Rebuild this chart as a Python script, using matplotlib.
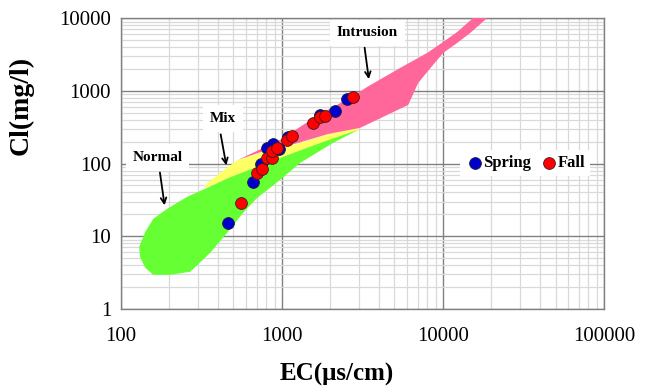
import matplotlib
matplotlib.use("Agg")
import matplotlib.pyplot as plt
from matplotlib.ticker import LogLocator, NullFormatter, FixedLocator, FixedFormatter

plt.rcParams["font.family"] = ["Liberation Serif", "DejaVu Serif"]

# sample points (EC in us/cm, Cl in mg/l)
spring_ec = [466, 666, 741, 807, 887, 966, 1099, 1729, 2143, 2535]
spring_cl = [15.4, 56.5, 99, 163, 187, 158, 235, 468, 531, 776]
fall_ec = [556, 705, 751, 807, 867, 867, 939, 1083, 1153, 1571, 1713, 1858, 2746]
fall_cl = [28.5, 75, 84, 119, 119, 151, 166, 212, 240, 366, 435, 453, 819]

# zone outlines
normal_ec = [130, 142, 159, 194, 258, 344, 464, 755, 1209, 1939, 2978,
             2083, 1299, 976, 703, 575, 457, 359, 270, 202, 159, 142, 132]
normal_cl = [7.1, 11.5, 17.3, 23.8, 34.8, 46.3, 63, 96, 143, 210, 291,
             193, 102, 59.7, 33.7, 21, 11.1, 5.9, 3.24, 2.94, 2.94, 3.67, 5.05]
mix_ec = [334, 464, 535, 755, 1209, 1939, 2978, 2978, 1939, 1209, 755, 464, 334]
mix_cl = [50.9, 90.1, 112.5, 143, 184, 252, 310, 281, 205, 140, 93, 61.6, 46.3]
intrusion_ec = [535, 976, 1729, 2656, 3388, 5430, 7990, 10040, 12270, 19670,
                24040, 18840, 14780, 12270, 10040, 7990, 7025, 6088, 3063,
                1939, 1209, 755]
intrusion_cl = [112.5, 212, 483, 801, 1135, 2072, 3333, 4721, 6480, 16230,
                16230, 10095, 6280, 4575, 3333, 1825, 1288, 641, 310,
                255, 187, 146]

decades = [100, 1000, 10000, 100000]
cl_decades = [1, 10, 100, 1000, 10000]

fig = plt.figure(figsize=(6.46, 3.88), dpi=100)
ax = fig.add_axes([0.187, 0.204, 0.748, 0.749])
ax.set_xscale("log")
ax.set_yscale("log")
ax.set_xlim(100, 100000)
ax.set_ylim(1, 10000)

ax.fill(mix_ec, mix_cl, color="#FFFF66", lw=0, zorder=2)
ax.fill(normal_ec, normal_cl, color="#66FF33", lw=0, zorder=3)
ax.fill(intrusion_ec, intrusion_cl, color="#FF6699", lw=0, zorder=4)

ax.scatter(spring_ec, spring_cl, s=72, color="#0000CC", edgecolor="#1a1a40",
           linewidth=0.6, zorder=6, label="Spring")
ax.scatter(fall_ec, fall_cl, s=72, color="#FF0000", edgecolor="#401a1a",
           linewidth=0.6, zorder=7, label="Fall")

ax.xaxis.set_major_locator(FixedLocator(decades))
ax.xaxis.set_major_formatter(FixedFormatter([str(v) for v in decades]))
ax.yaxis.set_major_locator(FixedLocator(cl_decades))
ax.yaxis.set_major_formatter(FixedFormatter([str(v) for v in cl_decades]))
for axis in (ax.xaxis, ax.yaxis):
    axis.set_minor_locator(LogLocator(base=10, subs=range(2, 10)))
    axis.set_minor_formatter(NullFormatter())

ax.grid(True, which="major", color="#808080", linewidth=1.0, zorder=1)
ax.grid(True, which="minor", color="#D9D9D9", linewidth=0.9, zorder=1)
ax.set_axisbelow(True)
ax.tick_params(which="both", length=0)
ax.tick_params(axis="x", labelsize=15, pad=13)
ax.tick_params(axis="y", labelsize=15, pad=7)
for spine in ax.spines.values():
    spine.set_color("#808080")
    spine.set_linewidth(1.0)

ax.set_xlabel("EC(\u03bcs/cm)", fontsize=18, fontweight="bold")
ax.set_ylabel("Cl(mg/l)", fontsize=20, fontweight="bold")
ax.xaxis.set_label_coords(0.447, -0.185)
ax.yaxis.set_label_coords(-0.18, 0.70)

box = dict(facecolor="white", edgecolor="none", pad=5)
arrow = dict(arrowstyle="->", color="black", lw=1.3)
ax.text(3388, 6280, "Intrusion", fontsize=11, fontweight="bold",
        ha="center", va="center", bbox=box, zorder=8)
ax.annotate("", xy=(3485, 1330), xytext=(3246, 4295), arrowprops=arrow, zorder=8)
ax.text(430, 412, "Mix", fontsize=11, fontweight="bold",
        ha="center", va="center", bbox=box, zorder=8)
ax.annotate("", xy=(455, 86.5), xytext=(414, 275), arrowprops=arrow, zorder=8)
ax.text(169, 121, "Normal", fontsize=11, fontweight="bold",
        ha="center", va="center", bbox=box, zorder=8)
ax.annotate("", xy=(188, 24.4), xytext=(174, 82), arrowprops=arrow, zorder=8)

leg = ax.legend(loc="center", bbox_to_anchor=(0.8365, 0.502), ncol=2,
                frameon=True, prop={"size": 12, "weight": "bold"},
                handletextpad=-0.1, columnspacing=0.5, borderpad=0.3,
                handlelength=1.2, fancybox=False)
leg.get_frame().set_facecolor("white")
leg.get_frame().set_edgecolor("none")
leg.get_frame().set_alpha(1.0)
leg.set_zorder(9)

fig.savefig("out.png", dpi=100)
